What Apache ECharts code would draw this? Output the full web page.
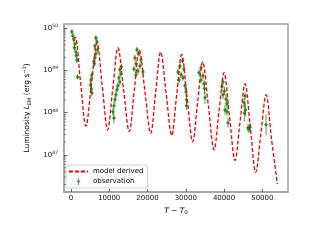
<!DOCTYPE html>
<html><head><meta charset="utf-8">
<script src="https://cdn.jsdelivr.net/npm/echarts@6/dist/echarts.min.js"></script>
<style>html,body{margin:0;padding:0;background:#fff}#c{width:320px;height:240px}</style>
</head><body><div id="c"></div>
<script>
// Model curve (time since T0, log10 luminosity)
const modelT = [600, 1100, 2500, 3920, 5360, 6800, 8195, 9590, 10935, 12280, 13760, 15240, 16545, 17850, 19340, 20830, 22135, 23440, 24880, 26320, 27625, 28930, 30370, 31810, 33115, 34420, 35900, 37380, 38685, 39990, 41425, 42860, 44170, 45480, 46875, 48270, 49620, 50970, 52400, 53920];
const modelLogL = [49.74, 49.78, 48.73, 47.68, 48.665, 49.65, 48.62, 47.59, 48.56, 49.53, 48.54, 47.55, 48.515, 49.48, 48.495, 47.51, 48.47, 49.43, 48.445, 47.46, 48.415, 49.37, 48.34, 47.31, 48.255, 49.20, 48.16, 47.12, 48.03, 48.94, 47.905, 46.87, 47.775, 48.68, 47.635, 46.59, 47.505, 48.42, 47.37, 46.31];

// Observations (time, log10 luminosity, error in dex)
const obsT = [260, 520, 780, 1050, 910, 1300, 1440, 1570, 1750,
  6530, 6800, 6270, 6930, 6530, 6270, 6010, 6140, 5490, 5230, 5100, 5360, 5490,
  13200, 12800, 13070, 12550, 12800, 12280, 12020, 11760, 11500, 11240, 10980, 11240,
  17250, 17770, 16730, 18300, 16990, 18040, 16470, 17510, 18820, 16990,
  29140, 28490, 29530, 27960, 28750, 29270, 28230, 29800, 30060, 30190, 30190,
  33980, 33460, 34500, 33980, 34760, 34890, 35020,
  39730, 39470, 40120, 39730, 40510, 40770, 40250, 40770, 41030,
  45480, 45220, 45610, 45300, 46260, 46780, 46520,
  50970];
const obsLogL = [49.91, 49.81, 49.72, 49.62, 49.53, 49.43, 49.34, 49.24, 48.84,
  49.76, 49.67, 49.57, 49.48, 49.39, 49.29, 49.20, 49.15, 48.89, 48.77, 48.65, 48.56, 48.46,
  49.08, 49.01, 48.91, 48.82, 48.72, 48.63, 48.54, 48.42, 48.30, 48.16, 48.02, 47.87,
  49.48, 49.39, 49.29, 49.24, 49.15, 49.10, 49.03, 48.98, 48.96, 48.89,
  49.22, 49.10, 49.03, 48.96, 48.89, 48.82, 48.77, 48.63, 48.49, 48.30, 48.16,
  49.06, 48.94, 48.87, 48.77, 48.68, 48.56, 48.35,
  48.72, 48.61, 48.51, 48.42, 48.32, 48.20, 48.06, 48.02, 47.76,
  48.39, 48.23, 48.06, 47.99, 47.64, 47.66, 47.61,
  47.71];
const obsErr = [0.06, 0.07, 0.07, 0.06, 0.07, 0.08, 0.07, 0.08, 0.06,
  0.07, 0.08, 0.07, 0.07, 0.08, 0.07, 0.08, 0.07, 0.08, 0.10, 0.08, 0.09, 0.08,
  0.07, 0.08, 0.07, 0.08, 0.07, 0.08, 0.08, 0.09, 0.09, 0.10, 0.10, 0.12,
  0.07, 0.07, 0.08, 0.07, 0.07, 0.08, 0.07, 0.07, 0.08, 0.07,
  0.06, 0.08, 0.07, 0.07, 0.08, 0.07, 0.08, 0.10, 0.12, 0.12, 0.10,
  0.07, 0.08, 0.08, 0.08, 0.10, 0.12, 0.15,
  0.08, 0.10, 0.10, 0.10, 0.12, 0.10, 0.12, 0.10, 0.12,
  0.10, 0.12, 0.15, 0.20, 0.10, 0.10, 0.10,
  0.25];

const seriesNames = ['model derived', 'observation'];

const FONT = 'DejaVu Sans';
const X_MIN = -1800, X_MAX = 56700;
const Y_MIN = Math.pow(10, 46.125), Y_MAX = Math.pow(10, 50.09);
const SPINE = '#a0a0a0';
const GREEN = '#008000';

const modelData = modelT.map((t, i) => [t, Math.pow(10, modelLogL[i])]);
const obsData = obsT.map((t, i) => [t, Math.pow(10, obsLogL[i])]);
const errData = obsT.map((t, i) => [t, Math.pow(10, obsLogL[i] - obsErr[i]), Math.pow(10, obsLogL[i] + obsErr[i])]);
const minorData = [];
for (let e = 46; e <= 49; e++) {
  for (let m = 2; m <= 9; m++) {
    const v = m * Math.pow(10, e);
    if (v > Y_MIN && v < Y_MAX) minorData.push([X_MIN, v]);
  }
}

const chart = echarts.init(document.getElementById('c'), null, {renderer: 'canvas'});
chart.setOption({
  animation: false,
  backgroundColor: '#fff',
  textStyle: {fontFamily: FONT},
  grid: {left: 64, right: 32, top: 24, bottom: 48, show: true, borderColor: SPINE, borderWidth: 1.5, backgroundColor: 'transparent'},
  legend: {
    orient: 'vertical', left: 66, top: 165,
    padding: [3, 4, 3, 2], itemGap: 3, itemWidth: 19, itemHeight: 7,
    borderColor: '#d0d0d0', borderWidth: 1, borderRadius: 2, backgroundColor: '#fff',
    textStyle: {fontFamily: FONT, fontSize: 7, color: '#000'},
    data: [
      {name: seriesNames[0], itemStyle: {opacity: 0}},
      {name: seriesNames[1], icon: 'path://M4.4,0 L5.6,0 L5.6,3 L7.5,5 L5.6,7 L5.6,10 L4.4,10 L4.4,7 L2.5,5 L4.4,3 Z', itemStyle: {color: GREEN}}
    ]
  },
  xAxis: {
    type: 'value', min: X_MIN, max: X_MAX,
    name: '{i|T} − {i|T}{sub|0}', nameLocation: 'middle', nameGap: 10,
    nameTextStyle: {fontFamily: FONT, fontSize: 7.5, color: '#000', rich: {
      i: {fontFamily: FONT, fontStyle: 'italic', fontSize: 7.5, lineHeight: 10},
      sub: {fontFamily: FONT, fontSize: 5.5, lineHeight: 5.5, verticalAlign: 'bottom'}
    }},
    axisLine: {show: true, onZero: false, lineStyle: {color: SPINE, width: 1.5}},
    axisTick: {show: true, inside: true, length: 3, lineStyle: {color: '#444', width: 0.8}},
    axisLabel: {fontFamily: FONT, fontSize: 7, color: '#111', margin: 3, showMinLabel: false, showMaxLabel: false,
      formatter: v => String(v)},
    splitLine: {show: false}
  },
  yAxis: {
    type: 'log', logBase: 10, min: Y_MIN, max: Y_MAX,
    name: 'Luminosity {i|L}{sub|EM} (erg s{sup|−1})', nameLocation: 'middle', nameGap: 24, nameRotate: 90,
    nameTextStyle: {fontFamily: FONT, fontSize: 7.5, color: '#000', rich: {
      i: {fontFamily: FONT, fontStyle: 'italic', fontSize: 7.5, lineHeight: 10},
      sub: {fontFamily: FONT, fontSize: 5, lineHeight: 5, verticalAlign: 'bottom'},
      sup: {fontFamily: FONT, fontSize: 5, lineHeight: 5, verticalAlign: 'top'}
    }},
    axisLine: {show: true, onZero: false, lineStyle: {color: SPINE, width: 1.5}},
    axisTick: {show: true, inside: true, length: 3.5, lineStyle: {color: '#444', width: 0.8}},
    axisLabel: {
      fontFamily: FONT, fontSize: 7, color: '#111', margin: 6, showMinLabel: false, showMaxLabel: false,
      formatter: v => '{b|10}{s|' + Math.round(Math.log10(v)) + '}',
      rich: {
        b: {fontFamily: FONT, fontSize: 7, color: '#111', lineHeight: 9},
        s: {fontFamily: FONT, fontSize: 4.5, color: '#111', lineHeight: 4, verticalAlign: 'top'}
      }
    },
    splitLine: {show: false}
  },
  series: [
    {
      type: 'custom', name: 'minor', silent: true, z: 5,
      data: minorData,
      encode: {x: 0, y: 1},
      renderItem: (params, api) => {
        const p = api.coord([api.value(0), api.value(1)]);
        return {type: 'line', shape: {x1: p[0], y1: p[1], x2: p[0] + 2, y2: p[1]}, style: {stroke: '#444', lineWidth: 0.6}};
      }
    },
    {
      type: 'custom', name: 'errbar', silent: true, z: 2,
      data: errData,
      encode: {x: 0, y: [1, 2]},
      renderItem: (params, api) => {
        const a = api.coord([api.value(0), api.value(1)]);
        const b = api.coord([api.value(0), api.value(2)]);
        return {type: 'line', shape: {x1: a[0], y1: a[1], x2: b[0], y2: b[1]}, style: {stroke: GREEN, lineWidth: 1, opacity: 0.7}};
      }
    },
    {
      type: 'scatter', name: seriesNames[1], z: 3,
      data: obsData, symbol: 'diamond', symbolSize: 4,
      itemStyle: {color: GREEN, opacity: 0.8}
    },
    {
      type: 'line', name: seriesNames[0], z: 4,
      data: modelData, showSymbol: false, symbol: 'none', smooth: 0.35,
      lineStyle: {color: '#ff0000', width: 1.3, type: [4, 2]},
      itemStyle: {color: '#ff0000'}
    }
  ]
});
</script>
</body></html>
